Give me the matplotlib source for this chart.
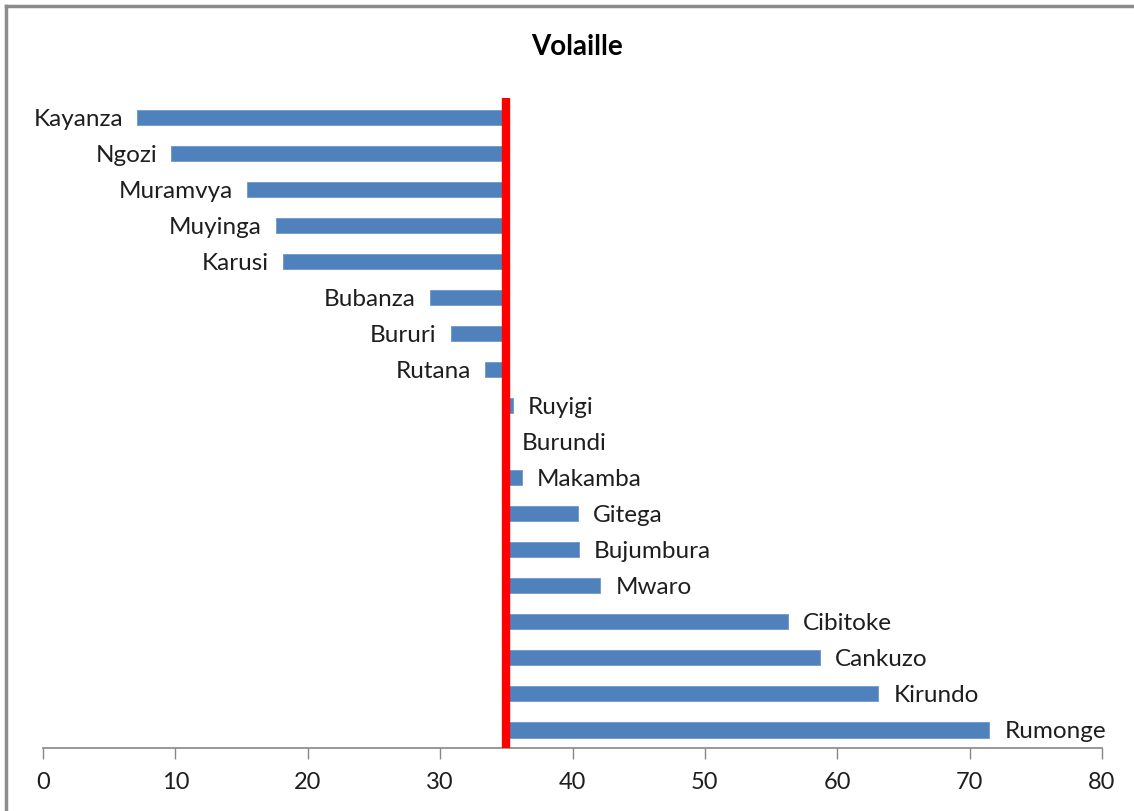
import matplotlib.pyplot as plt
from matplotlib.lines import Line2D

# Provinces and their poultry values (Burundi average used as the baseline)
provinces = ['Kayanza', 'Ngozi', 'Muramvya', 'Muyinga', 'Karusi', 'Bubanza', 'Bururi', 'Rutana',
             'Ruyigi', 'Burundi', 'Makamba', 'Gitega', 'Bujumbura', 'Mwaro', 'Cibitoke',
             'Cankuzo', 'Kirundo', 'Rumonge']
values = [7.1, 9.7, 15.4, 17.6, 18.1, 29.2, 30.8, 33.4,
          35.5, 35.0, 36.2, 40.4, 40.5, 42.1, 56.3,
          58.7, 63.1, 71.5]
baseline = 35.0
x_ticks = [0, 10, 20, 30, 40, 50, 60, 70, 80]

plt.rcParams['font.family'] = ['Lato', 'DejaVu Sans']

fig = plt.figure(figsize=(11.34, 8.11), dpi=100)
ax = fig.add_axes([43 / 1134, 1 - 748 / 811, (1102 - 43) / 1134, (748 - 98) / 811])

y = list(range(len(provinces)))
widths = [v - baseline for v in values]
ax.barh(y, widths, left=baseline, height=0.42, color='#4F81BD', edgecolor='#6E97C8', linewidth=0.6, zorder=2)

ax.axvline(baseline, color='#FF0000', linewidth=6, zorder=3)

for yi, name, v in zip(y, provinces, values):
    if v < baseline:
        ax.annotate(name, (v, yi), xytext=(-14, -2), textcoords='offset pixels',
                    ha='right', va='center', fontsize=17.5, color='#1E1E1E')
    else:
        ax.annotate(name, (v, yi), xytext=(15, -2), textcoords='offset pixels',
                    ha='left', va='center', fontsize=17.5, color='#1E1E1E')

ax.set_xlim(0, 80)
ax.set_ylim(len(provinces) - 1 + 0.5, -0.53)
ax.set_xticks(x_ticks)
ax.set_yticks([])
ax.tick_params(axis='x', direction='out', length=8, width=1, color='#868686', labelsize=17, pad=9,
               labelcolor='#1E1E1E')
for s in ['top', 'right', 'left']:
    ax.spines[s].set_visible(False)
ax.spines['bottom'].set_color('#868686')
ax.spines['bottom'].set_linewidth(1.2)

fig.text(577 / 1134, 1 - 47 / 811, 'Volaille', ha='center', va='center', fontsize=20, fontweight='bold')

# outer chart frame (top and left edges visible)
fig.add_artist(Line2D([6 / 1134, 1], [1 - 6 / 811, 1 - 6 / 811], color='#8C8C8C', linewidth=2.5))
fig.add_artist(Line2D([6 / 1134, 6 / 1134], [0, 1 - 6 / 811], color='#8C8C8C', linewidth=2.5))

plt.savefig('out.png', dpi=100)
